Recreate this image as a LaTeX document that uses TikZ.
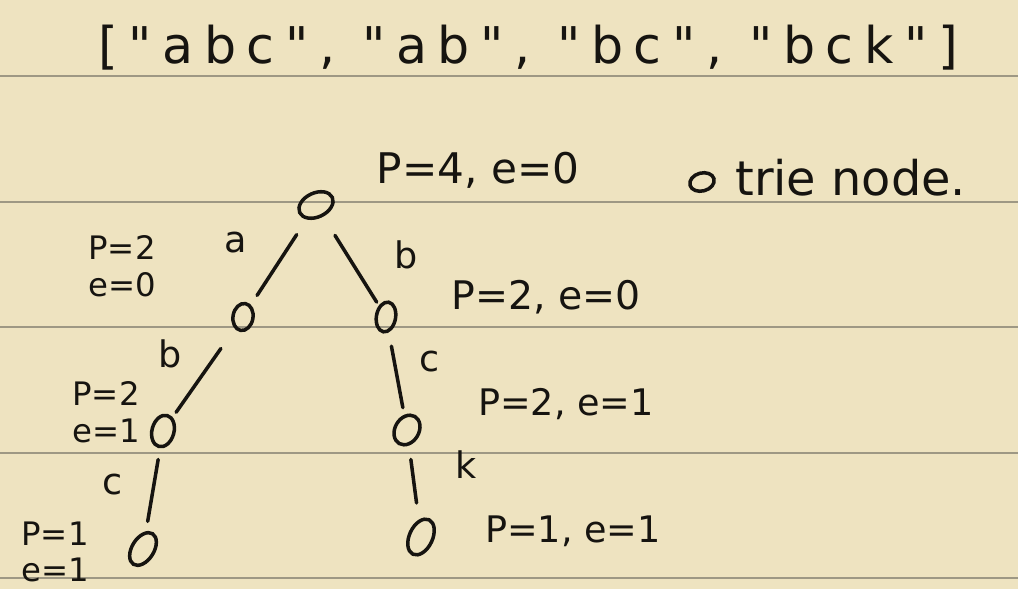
\documentclass[tikz,border=0pt]{standalone}
\usepackage{fontspec}
\setmainfont{DejaVu Sans}[Ligatures=TeXOff]
\usetikzlibrary{shapes.geometric}
\definecolor{paper}{RGB}{238,227,192}
\definecolor{rulegray}{RGB}{158,152,132}
\definecolor{ink}{RGB}{22,20,16}
\tikzset{
  trienode/.style={draw=ink,ellipse,line width=2.5pt,inner sep=0pt,minimum width=0.5cm,minimum height=0.7cm},
  trieedge/.style={draw=ink,line width=2.5pt,line cap=round},
  edgelabel/.style={text=ink,font=\fontsize{26}{30}\selectfont,inner sep=0pt},
  countlabel/.style={text=ink,font=\fontsize{28}{32}\selectfont,inner sep=0pt},
  stacklabel/.style={text=ink,font=\fontsize{23}{26}\selectfont,align=center,inner sep=0pt},
  ruling/.style={draw=rulegray,line width=1.1pt}
}
\begin{document}
\begin{tikzpicture}[x=0.025cm,y=-0.025cm]
\fill[paper] (0,0) rectangle (1018,589);
\useasboundingbox (0,0) rectangle (1018,589);
\foreach \y in {76,202,327,453,578}
  \draw[ruling] (0,\y) -- (1018,\y);
\node[text=ink,inner sep=0pt,font={\fontsize{36}{40}\selectfont\addfontfeature{LetterSpace=21}}] (title) at (528,48) {["abc", "ab", "bc", "bck"]};
\node[trienode,minimum width=0.9cm,minimum height=0.6cm,rotate=25] (root) at (316,205) {};
\node[trienode,minimum width=0.5cm,minimum height=0.68cm,rotate=-10] (na) at (243,317) {};
\node[trienode,minimum width=0.48cm,minimum height=0.75cm,rotate=-10] (nb) at (386,317) {};
\node[trienode,minimum width=0.55cm,minimum height=0.8cm,rotate=-15] (nab) at (163,431) {};
\node[trienode,minimum width=0.6cm,minimum height=0.78cm,rotate=-30] (nbc) at (407,430) {};
\node[trienode,minimum width=0.55cm,minimum height=0.9cm,rotate=-32] (nabc) at (143,549) {};
\node[trienode,minimum width=0.58cm,minimum height=0.95cm,rotate=-25] (nbck) at (421,537) {};
\node[trienode,minimum width=0.62cm,minimum height=0.45cm,rotate=15] (legend) at (702,182) {};
\draw[trieedge,shorten <=0.45cm,shorten >=0.28cm] (root) -- (na);
\draw[trieedge,shorten <=0.55cm,shorten >=0.1cm] (root) -- (nb);
\draw[trieedge,shorten <=0.6cm,shorten >=0.15cm] (na) -- (nab);
\draw[trieedge,shorten <=0.35cm,shorten >=0.18cm] (nb) -- (nbc);
\draw[trieedge,shorten <=0.28cm,shorten >=0.25cm] (nab) -- (nabc);
\draw[trieedge,shorten <=0.35cm,shorten >=0.42cm] (nbc) -- (nbck);
\node[edgelabel] (la) at (236,243) {a};
\node[edgelabel] (lb) at (406,255) {b};
\node[edgelabel] (lab) at (170,354) {b};
\node[edgelabel] (lbc) at (430,362) {c};
\node[edgelabel] (labc) at (113,485) {c};
\node[edgelabel] (lbck) at (466,465) {k};
\node[countlabel,font=\fontsize{30}{34}\selectfont] (croot) at (478,170) {P=4, e=0};
\node[countlabel,font=\fontsize{34}{38}\selectfont,anchor=base west] (clegend) at (735,196) {trie node.};
\node[stacklabel] (cna) at (122,266) {P=2\\e=0};
\node[countlabel] (cnb) at (546,297) {P=2, e=0};
\node[stacklabel] (cnab) at (106,412) {P=2\\e=1};
\node[countlabel,font=\fontsize{26}{30}\selectfont] (cnbc) at (566,404) {P=2, e=1};
\node[stacklabel] (cnabc) at (55,552) {P=1\\e=1};
\node[countlabel,font=\fontsize{26}{30}\selectfont] (cnbck) at (573,531) {P=1, e=1};
\end{tikzpicture}
\end{document}
